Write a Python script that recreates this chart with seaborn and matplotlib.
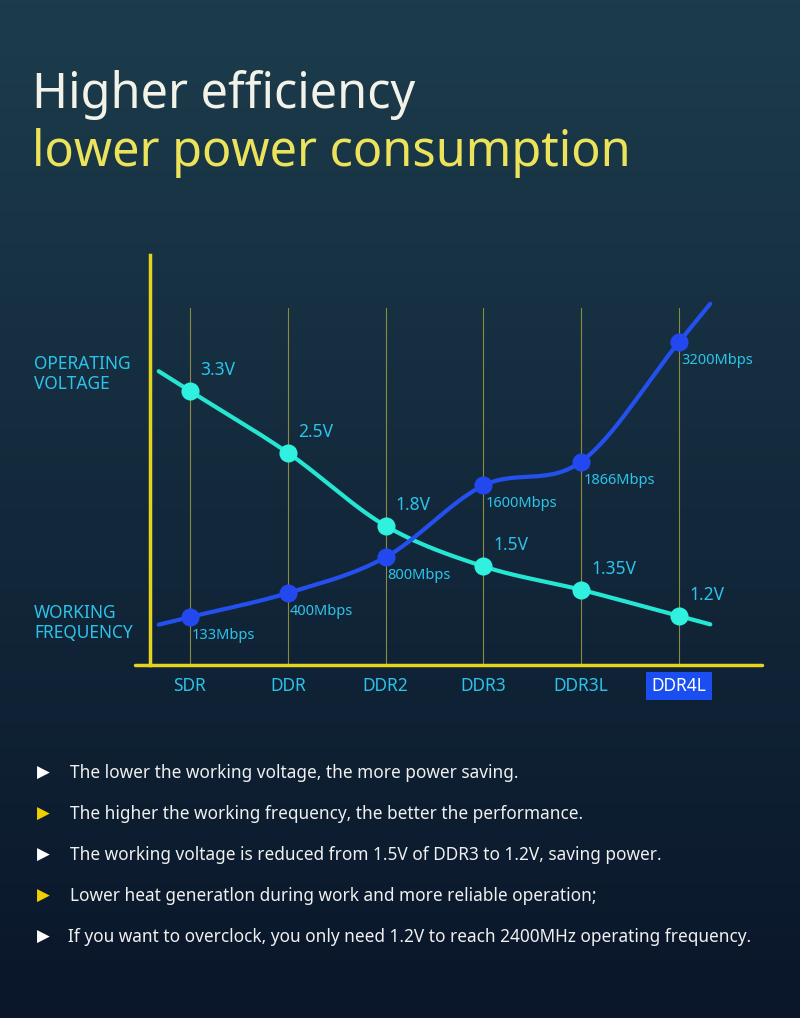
import numpy as np
import matplotlib.pyplot as plt
import seaborn as sns

categories = ['SDR', 'DDR', 'DDR2', 'DDR3', 'DDR3L', 'DDR4L']
voltage = [3.3, 2.5, 1.8, 1.5, 1.35, 1.2]
voltage_labels = ['3.3V', '2.5V', '1.8V', '1.5V', '1.35V', '1.2V']
frequency = [133, 400, 800, 1600, 1866, 3200]
freq_labels = ['133Mbps', '400Mbps', '800Mbps', '1600Mbps', '1866Mbps', '3200Mbps']
bullets = [
    'The lower the working voltage, the more power saving.',
    'The higher the working frequency, the better the performance.',
    'The working voltage is reduced from 1.5V of DDR3 to 1.2V, saving power.',
    'Lower heat generatlon during work and more reliable operation;',
    'If you want to overclock, you only need 1.2V to reach 2400MHz operating frequency.',
]

W, H = 800, 1018
CYAN_TXT = '#2cc3ea'
YELLOW = '#e6d320'
V_COL = '#25e6d2'
F_COL = '#2450f0'

sns.set_theme(style='white')
plt.rcParams['font.family'] = ['Noto Sans', 'DejaVu Sans']

fig = plt.figure(figsize=(W / 100, H / 100), dpi=100)

# background gradient
bg = fig.add_axes([0, 0, 1, 1])
g = np.linspace(0, 1, 256)[:, None]
top = np.array([0x1c, 0x3c, 0x4c]) / 255
bot = np.array([0x0a, 0x16, 0x2a]) / 255
img = top[None, None, :] * (1 - g[..., None]) + bot[None, None, :] * g[..., None]
img = np.repeat(img, 2, axis=1)
bg.imshow(img, aspect='auto', extent=[0, 1, 0, 1])
bg.axis('off')


def fx(px):
    return px / W


def fy(py):
    return 1 - py / H


def smooth(x, y, n=30, ext=0.32):
    # catmull-rom through the points, with short straight ends
    x = np.asarray(x, float)
    y = np.asarray(y, float)
    px = np.r_[2 * x[0] - x[1], x, 2 * x[-1] - x[-2]]
    py = np.r_[2 * y[0] - y[1], y, 2 * y[-1] - y[-2]]
    ox, oy = [], []
    t = np.linspace(0, 1, n)[:, None]
    for i in range(1, len(px) - 2):
        P = np.array([[px[j], py[j]] for j in range(i - 1, i + 3)])
        seg = 0.5 * ((2 * P[1]) + (-P[0] + P[2]) * t + (2 * P[0] - 5 * P[1] + 4 * P[2] - P[3]) * t ** 2
                     + (-P[0] + 3 * P[1] - 3 * P[2] + P[3]) * t ** 3)
        ox.append(seg[:, 0])
        oy.append(seg[:, 1])
    ox = np.concatenate(ox)
    oy = np.concatenate(oy)
    s0 = (y[1] - y[0]) / (x[1] - x[0])
    s1 = (y[-1] - y[-2]) / (x[-1] - x[-2])
    ox = np.r_[x[0] - ext, ox, x[-1] + ext]
    oy = np.r_[y[0] - ext * s0, oy, y[-1] + ext * s1]
    return ox, oy


fig.text(fx(32), fy(95), 'Higher efficiency', color='#f2f2e8', fontsize=35, va='center', fontweight='semibold')
fig.text(fx(32), fy(153), 'lower power consumption', color='#ece35a', fontsize=35, va='center', fontweight='semibold')

# chart axes
x0, x1, y0, y1 = 150, 760, 255, 665
ax = fig.add_axes([fx(x0), fy(y1), (x1 - x0) / W, (y1 - y0) / H])
ax.patch.set_alpha(0)
step = 97.8
ax.set_xlim(-(190 - x0) / step, (x1 - 190) / step)
lnpp = (np.log(3.3) - np.log(1.2)) / 225
ax.set_yscale('log')
ax.set_ylim(np.exp(np.log(1.2) - (665 - 616) * lnpp), np.exp(np.log(3.3) + (391 - 255) * lnpp))
for s in ['top', 'right', 'bottom']:
    ax.spines[s].set_visible(False)
ax.spines['left'].set_color(YELLOW)
ax.spines['left'].set_linewidth(2.5)
ax.set_xticks([])
ax.set_yticks([])
ax.set_yticks([], minor=True)
for i in range(len(categories)):
    ax.plot([i, i], [ax.get_ylim()[0], np.exp(np.log(ax.get_ylim()[0]) + (665 - 308) * lnpp)],
            color='#8a8a40', lw=0.8, zorder=1)

ax2 = ax.twinx()
ax2.patch.set_alpha(0)
fpp = (3200 - 133) / (617 - 342)
ax2.set_ylim(133 - (665 - 617) * fpp, 3200 + (342 - 255) * fpp)
ax2.axis('off')

xs = np.arange(len(categories))
vx, vy = smooth(xs, np.log(voltage))
sns.lineplot(x=vx, y=np.exp(vy), ax=ax, color=V_COL, lw=3, zorder=3, sort=False)
fxs, fys = smooth(xs, frequency)
sns.lineplot(x=fxs, y=fys, ax=ax2, color=F_COL, lw=3, zorder=3, sort=False)
sns.scatterplot(x=xs, y=voltage, ax=ax, color='#30f0e0', s=170, edgecolor='#30f0e0', linewidth=0, zorder=5)
sns.scatterplot(x=xs, y=frequency, ax=ax2, color='#2448f0', s=170, linewidth=0, zorder=5)
ax.set_xlabel('')
ax.set_ylabel('')
for i, (v, t) in enumerate(zip(voltage, voltage_labels)):
    ax.annotate(t, (i, v), xytext=(10, 16), textcoords='offset pixels', color=CYAN_TXT, fontsize=12.5)
for i, (f, t) in enumerate(zip(frequency, freq_labels)):
    ax2.annotate(t, (i, f), xytext=(2, -22), textcoords='offset pixels', color=CYAN_TXT, fontsize=10.5)

# horizontal axis line
fig.add_artist(plt.Line2D([fx(135), fx(762)], [fy(665), fy(665)], color=YELLOW, lw=2.5))
for i, c in enumerate(categories):
    px = 190 + i * step
    if c == 'DDR4L':
        fig.text(fx(px), fy(686), c, color='white', fontsize=12.5, ha='center', va='center',
                 bbox=dict(boxstyle='square,pad=0.3', fc='#1a4ef0', ec='none'))
    else:
        fig.text(fx(px), fy(686), c, color=CYAN_TXT, fontsize=12.5, ha='center', va='center')

fig.text(fx(34), fy(374), 'OPERATING\nVOLTAGE', color=CYAN_TXT, fontsize=12.5, va='center', linespacing=1.1)
fig.text(fx(34), fy(623), 'WORKING\nFREQUENCY', color=CYAN_TXT, fontsize=12.5, va='center', linespacing=1.1)

for i, b in enumerate(bullets):
    py = 773 + i * 41
    col = 'white' if i % 2 == 0 else '#f0d000'
    fig.text(fx(37), fy(py), '\u25B6', color=col, fontsize=12, va='center', family=['DejaVu Sans'])
    fig.text(fx(70) if i != 4 else fx(68), fy(py), b, color='#f0f0f0', fontsize=12.4, va='center')

fig.savefig('out.png', dpi=100)
